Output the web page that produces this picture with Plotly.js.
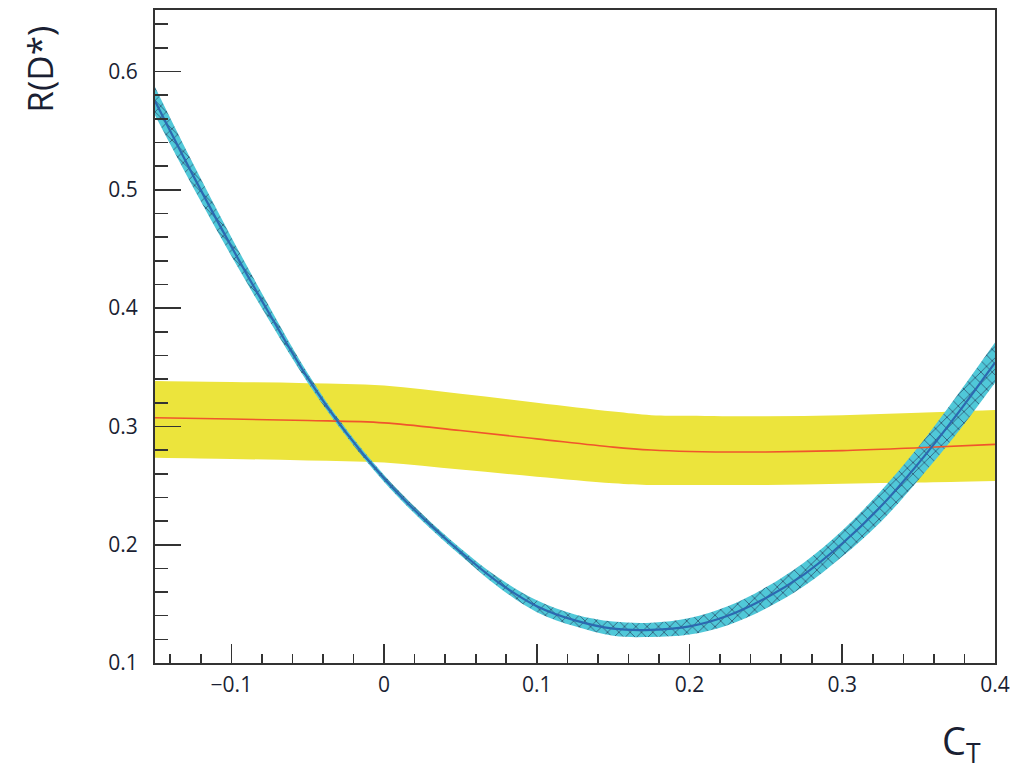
<!DOCTYPE html>
<html>
<head>
<meta charset="utf-8">
<script src="https://cdn.plot.ly/plotly-3.0.1.min.js"></script>
<style>html,body{margin:0;padding:0;background:#fff;}#chart{width:1030px;height:775px;}</style>
</head>
<body>
<div id="chart"></div>
<script>
// Tensor-coupling curve R(D*) vs C_T
const ctX = [-0.15, -0.125, -0.1, -0.075, -0.05, -0.025, 0, 0.025, 0.05, 0.075, 0.1, 0.125, 0.15, 0.175, 0.2, 0.225, 0.25, 0.275, 0.3, 0.325, 0.35, 0.375, 0.4];
const ctR = [0.575, 0.512, 0.452, 0.395, 0.341, 0.295, 0.256, 0.223, 0.194, 0.168, 0.148, 0.136, 0.129, 0.128, 0.131, 0.140, 0.155, 0.175, 0.201, 0.232, 0.269, 0.310, 0.354];
const ctErr = [0.012, 0.010, 0.008, 0.006, 0.004, 0.003, 0.003, 0.003, 0.003, 0.004, 0.005, 0.005, 0.006, 0.006, 0.007, 0.008, 0.009, 0.010, 0.011, 0.013, 0.014, 0.016, 0.017];

// Measured R(D*) band (yellow) with central value (red)
const measX = [-0.15, -0.1, -0.05, 0, 0.05, 0.1, 0.15, 0.175, 0.2, 0.25, 0.3, 0.35, 0.4];
const measMid = [0.3073, 0.3062, 0.3050, 0.3030, 0.2965, 0.2895, 0.2825, 0.2800, 0.2788, 0.2784, 0.2795, 0.2820, 0.2848];
const measHi = [0.3383, 0.3375, 0.3365, 0.3345, 0.3275, 0.3200, 0.3125, 0.3095, 0.3090, 0.3085, 0.3095, 0.3115, 0.3138];
const measLo = [0.2735, 0.2725, 0.2712, 0.2695, 0.2635, 0.2575, 0.2520, 0.2505, 0.2505, 0.2505, 0.2515, 0.2525, 0.2538];

const xTickVals = [-0.1, 0, 0.1, 0.2, 0.3, 0.4];
const xTickText = ['\u22120.1', '0', '0.1', '0.2', '0.3', '0.4'];
const yTickVals = [0.1, 0.2, 0.3, 0.4, 0.5, 0.6];
const yTickText = ['0.1', '0.2', '0.3', '0.4', '0.5', '0.6'];

const ctLo = ctR.map((v, i) => v - ctErr[i]);
const ctHi = ctR.map((v, i) => v + ctErr[i]);

const traces = [
  {x: measX, y: measLo, mode: 'lines', line: {width: 0, color: 'rgba(0,0,0,0)', shape: 'spline'}, hoverinfo: 'skip', showlegend: false},
  {x: measX, y: measHi, mode: 'lines', line: {width: 0, color: 'rgba(0,0,0,0)', shape: 'spline'}, fill: 'tonexty', fillcolor: '#ece43c', hoverinfo: 'skip', showlegend: false},
  {x: ctX, y: ctLo, mode: 'lines', line: {width: 0, color: 'rgba(0,0,0,0)', shape: 'spline'}, hoverinfo: 'skip', showlegend: false},
  {x: ctX, y: ctHi, mode: 'lines', line: {width: 0, color: 'rgba(0,0,0,0)', shape: 'spline'}, fill: 'tonexty', fillcolor: '#50c8d8',
   fillpattern: {shape: 'x', bgcolor: '#50c8d8', fgcolor: '#2c4c6c', size: 8, solidity: 0.18}, hoverinfo: 'skip', showlegend: false},
  {x: measX, y: measMid, mode: 'lines', line: {width: 1.6, color: '#f0552c', shape: 'spline'}, hoverinfo: 'skip', showlegend: false},
  {x: ctX, y: ctR, mode: 'lines', line: {width: 2.2, color: '#2c69b0', shape: 'spline'}, hoverinfo: 'skip', showlegend: false}
];

const axisFont = {family: 'Open Sans, sans-serif', size: 21, color: '#1a1f33'};

const layout = {
  width: 1030, height: 775,
  margin: {l: 155, r: 35, t: 10, b: 112},
  paper_bgcolor: '#ffffff', plot_bgcolor: '#ffffff',
  showlegend: false,
  xaxis: {
    range: [-0.15, 0.4], showgrid: false, zeroline: false,
    showline: true, linecolor: '#333', linewidth: 2, mirror: true,
    ticks: 'inside', ticklen: 19, tickwidth: 1.6, tickcolor: '#333',
    tickvals: xTickVals, ticktext: xTickText, tickfont: axisFont, ticklabelstandoff: 2,
    minor: {dtick: 0.02, tick0: 0, ticks: 'inside', ticklen: 9, tickwidth: 1.6, tickcolor: '#333', showgrid: false}
  },
  yaxis: {
    range: [0.1, 0.652], showgrid: false, zeroline: false,
    showline: true, linecolor: '#333', linewidth: 2, mirror: true,
    ticks: 'inside', ticklen: 26, tickwidth: 1.6, tickcolor: '#333',
    tickvals: yTickVals, ticktext: yTickText, tickfont: axisFont, ticklabelstandoff: 11,
    minor: {dtick: 0.02, tick0: 0, ticks: 'inside', ticklen: 13, tickwidth: 1.6, tickcolor: '#333', showgrid: false}
  },
  annotations: [
    {text: 'R(D*)', xref: 'paper', yref: 'paper', x: -0.137, y: 0.91, xanchor: 'center', yanchor: 'middle',
     textangle: -90, showarrow: false, font: {family: 'Open Sans, sans-serif', size: 35, color: '#1a1f33'}},
    {text: 'C<sub>T</sub>', xref: 'paper', yref: 'paper', x: 0.96, y: -0.122, xanchor: 'center', yanchor: 'middle',
     showarrow: false, font: {family: 'Open Sans, sans-serif', size: 38, color: '#1a1f33'}}
  ]
};

Plotly.newPlot('chart', traces, layout, {displayModeBar: false, staticPlot: true});
</script>
</body>
</html>
